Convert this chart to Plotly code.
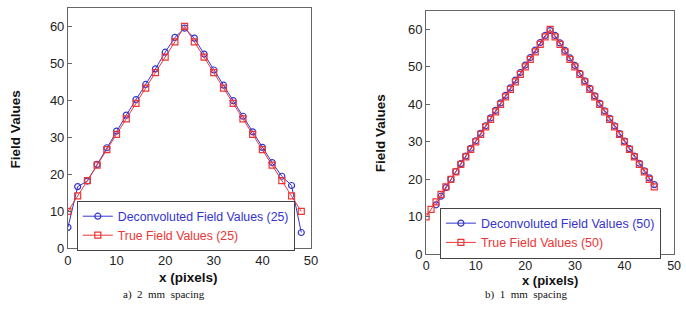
import plotly.graph_objects as go

# ---- data: panel a) 2 mm spacing (25 points) ----
xa = [0, 2, 4, 6, 8, 10, 12, 14, 16, 18, 20, 22, 24, 26, 28, 30, 32, 34, 36, 38, 40, 42, 44, 46, 48]
deconv_a = [5.7, 16.7, 18.2, 22.7, 27.2, 31.7, 36.0, 40.2, 44.3, 48.5, 53.0, 57.0, 59.5,
            56.8, 52.5, 48.2, 44.1, 39.9, 35.7, 31.5, 27.3, 23.2, 19.5, 17.0, 4.3]
true_a = [10.0, 14.2, 18.3, 22.5, 26.7, 30.8, 35.0, 39.2, 43.3, 47.5, 51.7, 55.8, 60.0,
          55.8, 51.7, 47.5, 43.3, 39.2, 35.0, 30.8, 26.7, 22.5, 18.3, 14.2, 10.0]

# ---- data: panel b) 1 mm spacing ----
xb_true = [0, 1, 2, 3, 4, 5, 6, 7, 8, 9, 10, 11, 12, 13, 14, 15, 16, 17, 18, 19, 20, 21, 22, 23,
           24, 25, 26, 27, 28, 29, 30, 31, 32, 33, 34, 35, 36, 37, 38, 39, 40, 41, 42, 43, 44, 45, 46]
true_b = [10, 12, 14, 16, 18, 20, 22, 24, 26, 28, 30, 32, 34, 36, 38, 40, 42, 44, 46, 48, 50, 52, 54, 56,
          58, 60, 58, 56, 54, 52, 50, 48, 46, 44, 42, 40, 38, 36, 34, 32, 30, 28, 26, 24, 22, 20, 18]
xb_dec = [2, 3, 4, 5, 6, 7, 8, 9, 10, 11, 12, 13, 14, 15, 16, 17, 18, 19, 20, 21, 22, 23,
          24, 25, 26, 27, 28, 29, 30, 31, 32, 33, 34, 35, 36, 37, 38, 39, 40, 41, 42, 43, 44, 45, 46]
deconv_b = [13.2, 15.5, 17.8, 20.0, 22.1, 24.2, 26.2, 28.3, 30.3, 32.3, 34.3, 36.4, 38.4, 40.4, 42.4,
            44.4, 46.5, 48.5, 50.5, 52.5, 54.5, 56.5, 58.4, 59.7, 58.4, 56.4, 54.4, 52.4, 50.4, 48.3,
            46.3, 44.3, 42.3, 40.3, 38.3, 36.3, 34.3, 32.2, 30.2, 28.2, 26.2, 24.3, 22.3, 20.4, 18.6]

tick_vals_x = [0, 10, 20, 30, 40, 50]
tick_vals_y = [0, 10, 20, 30, 40, 50, 60]

BLUE = "#3434d0"
RED = "#ec3535"
FONT = "Liberation Sans, Arial, sans-serif"

fig = go.Figure()

def add_pair(x1, y1, x2, y2, name1, name2, xa_name, ya_name, legend):
    fig.add_trace(go.Scatter(
        x=x1, y=y1, mode="lines+markers", xaxis=xa_name, yaxis=ya_name, legend=legend,
        name=f"<span style='color:{BLUE}'>{name1}</span>",
        line=dict(color=BLUE, width=1),
        marker=dict(symbol="circle-open", size=6, color=BLUE, line=dict(width=1.2))))
    fig.add_trace(go.Scatter(
        x=x2, y=y2, mode="lines+markers", xaxis=xa_name, yaxis=ya_name, legend=legend,
        name=f"<span style='color:{RED}'>{name2}</span>",
        line=dict(color=RED, width=1),
        marker=dict(symbol="square-open", size=6, color=RED, line=dict(width=1.2))))

add_pair(xa, deconv_a, xa, true_a, "Deconvoluted Field Values (25)", "True Field Values (25)",
         "x", "y", "legend")
add_pair(xb_dec, deconv_b, xb_true, true_b, "Deconvoluted Field Values (50)", "True Field Values (50)",
         "x2", "y2", "legend2")

W, H = 686, 311

def axis_style(size):
    return dict(showgrid=False, zeroline=False, showline=True, mirror=True,
                linecolor="#666666", linewidth=1, ticks="inside", ticklen=4,
                tickcolor="#666666", tickfont=dict(family=FONT, size=size, color="#222222"))

fig.update_layout(
    width=W, height=H, margin=dict(l=0, r=0, t=0, b=0),
    paper_bgcolor="white", plot_bgcolor="white",
    font=dict(family=FONT, size=12, color="#222222"),
    xaxis=dict(domain=[65 / W, 312 / W], range=[0, 50], tickvals=tick_vals_x, anchor="y", **axis_style(13)),
    yaxis=dict(domain=[1 - 255 / H, 1 - 8 / H], range=[0, 65], tickvals=tick_vals_y, anchor="x", **axis_style(13)),
    xaxis2=dict(domain=[429 / W, 681 / W], range=[0, 50], tickvals=tick_vals_x, anchor="y2", **axis_style(12.5)),
    yaxis2=dict(domain=[1 - 261 / H, 1 - 11 / H], range=[0, 65], tickvals=tick_vals_y, anchor="x2", **axis_style(13)),
    legend=dict(x=74 / W, y=1 - 206 / H, xanchor="left", yanchor="top",
                bordercolor="#444444", borderwidth=1, bgcolor="white",
                font=dict(family=FONT, size=12.3), tracegroupgap=0, itemwidth=30),
    legend2=dict(x=443 / W, y=1 - 213 / H, xanchor="left", yanchor="top",
                 bordercolor="#444444", borderwidth=1, bgcolor="white",
                 font=dict(family=FONT, size=12.5), tracegroupgap=0, itemwidth=30),
    showlegend=True,
)

annots = [
    dict(text="<b>x (pixels)</b>", x=188 / W, y=1 - 285 / H, size=13.5),
    dict(text="<b>x (pixels)</b>", x=555 / W, y=1 - 287.5 / H, size=13),
    dict(text="<b>Field Values</b>", x=12 / W, y=1 - 133 / H, textangle=-90, size=13.5),
    dict(text="<b>Field Values</b>", x=383 / W, y=1 - 137 / H, textangle=-90, size=13.5),
]
for a in annots:
    size = a.pop("size")
    fig.add_annotation(xref="paper", yref="paper", xanchor="center", yanchor="middle",
                       showarrow=False, font=dict(family=FONT, size=size, color="#111111"), **a)

for txt, cx in [("a)  2  mm  spacing", 163), ("b)  1  mm  spacing", 530)]:
    fig.add_annotation(xref="paper", yref="paper", x=cx / W, y=0,
                       xanchor="center", yanchor="bottom", showarrow=False, text=txt,
                       font=dict(family="Liberation Serif, Times New Roman, serif", size=11, color="#111111"))

fig.write_html("out.html")
